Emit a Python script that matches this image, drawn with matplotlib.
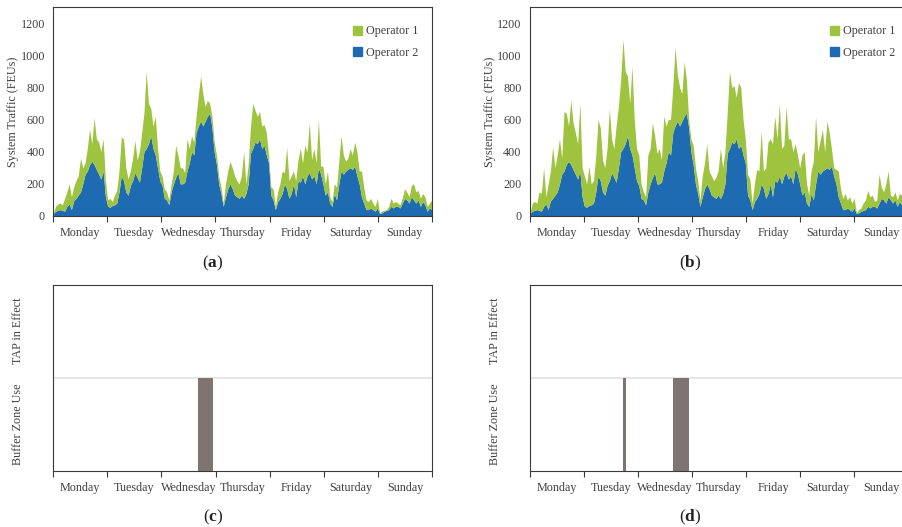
import numpy as np
import matplotlib
matplotlib.use("Agg")
import matplotlib.pyplot as plt
from matplotlib.patches import Patch

plt.rcParams['font.family'] = ['Liberation Serif', 'DejaVu Serif']
plt.rcParams['mathtext.fontset'] = 'custom'
plt.rcParams['mathtext.rm'] = 'Liberation Serif'
plt.rcParams['mathtext.bf'] = 'Liberation Serif:bold'

days = ["Monday", "Tuesday", "Wednesday", "Thursday", "Friday", "Saturday", "Sunday"]

# Operator 2 traffic (hourly, FEUs) - same in (a) and (b)
op2 = [
    15, 30, 35, 40, 35, 30, 60, 75, 40, 95, 110, 130, 150, 200, 260, 280, 320, 340, 320, 290, 260, 230, 280, 120,
    60, 55, 65, 70, 80, 150, 250, 220, 150, 130, 190, 220, 270, 240, 210, 300, 400, 420, 450, 500, 420, 380, 300, 220,
    190, 110, 100, 70, 150, 200, 240, 270, 200, 200, 210, 280, 330, 400, 380, 520, 560, 590, 560, 590, 620, 640, 550, 400,
    320, 200, 140, 60, 120, 170, 200, 170, 130, 120, 110, 130, 110, 140, 200, 390, 420, 460, 450, 480, 420, 440, 380, 330,
    130, 100, 40, 90, 110, 140, 200, 170, 110, 140, 200, 120, 220, 210, 250, 200, 250, 270, 230, 250, 200, 300, 260, 200,
    130, 150, 80, 60, 140, 100, 200, 280, 260, 280, 290, 300, 290, 310, 250, 200, 120, 80, 40, 40, 50, 40, 30, 50,
    15, 20, 30, 35, 40, 60, 50, 60, 60, 50, 80, 110, 100, 80, 120, 100, 80, 100, 60, 90, 70, 30, 50, 40,
]

# Total system traffic (Operator 1 + Operator 2), scenario (a)
total_a = [
    20, 60, 75, 80, 70, 110, 150, 200, 120, 180, 220, 250, 360, 300, 330, 420, 540, 450, 610, 480, 460, 400, 480, 220,
    100, 110, 90, 130, 160, 280, 490, 480, 300, 230, 280, 360, 470, 350, 400, 520, 640, 900, 700, 670, 560, 620, 420, 280,
    250, 170, 150, 100, 200, 280, 440, 380, 300, 300, 270, 480, 420, 500, 460, 620, 750, 870, 760, 680, 720, 700, 620, 460,
    380, 250, 180, 80, 200, 280, 340, 300, 250, 220, 200, 250, 400, 200, 320, 550, 700, 660, 620, 650, 560, 570, 520, 380,
    180, 170, 60, 150, 200, 280, 270, 430, 220, 250, 280, 220, 350, 420, 330, 440, 400, 580, 350, 420, 330, 600, 310, 310,
    200, 280, 120, 90, 200, 180, 340, 500, 380, 340, 360, 420, 380, 460, 400, 280, 280, 180, 100, 90, 110, 80, 60, 110,
    20, 30, 35, 40, 60, 110, 80, 90, 80, 70, 110, 170, 150, 120, 190, 200, 150, 160, 110, 140, 120, 60, 80, 100,
]

# Total system traffic, scenario (b)
total_b = [
    20, 80, 90, 80, 150, 140, 300, 120, 200, 280, 430, 300, 380, 480, 360, 650, 640, 560, 720, 580, 520, 450, 700, 300,
    250, 200, 310, 200, 220, 370, 600, 550, 350, 300, 420, 670, 480, 420, 560, 680, 850, 1100, 900, 870, 700, 930, 600, 420,
    380, 200, 150, 120, 380, 420, 580, 500, 390, 420, 350, 620, 560, 600, 600, 800, 1050, 880, 800, 760, 960, 850, 600, 480,
    440, 300, 220, 100, 250, 330, 450, 280, 250, 220, 240, 280, 420, 300, 400, 640, 900, 800, 810, 740, 830, 800, 600, 480,
    260, 230, 80, 200, 290, 280, 530, 280, 300, 460, 480, 450, 620, 480, 700, 420, 440, 680, 480, 480, 400, 450, 380, 300,
    380, 400, 200, 130, 280, 340, 620, 400, 470, 540, 400, 590, 520, 420, 300, 290, 280, 170, 110, 140, 100, 120, 80, 110,
    20, 40, 50, 80, 100, 160, 120, 130, 90, 100, 260, 180, 150, 200, 280, 130, 120, 150, 100, 140, 130, 80, 120, 110,
]

# Buffer zone use intervals (start day, end day), day 0 = Monday 00:00
buffer_c_start = [2 + 16.0 / 24]
buffer_c_end = [2 + 23.0 / 24]
buffer_d_start = [1 + 17.25 / 24, 2 + 15.5 / 24]
buffer_d_end = [1 + 18.5 / 24, 2 + 22.6 / 24]

GREEN = "#9DC33F"
BLUE = "#1F6BB1"
BAR = "#7E7472"
TXT = "#404040"
SPINE = "#3a3a3a"

W, H = 903, 527
fig = plt.figure(figsize=(W / 100, H / 100), dpi=100)


def fr(l, r, t, b):
    return [l / W, 1 - b / H, (r - l) / W, (b - t) / H]


def style_x(ax):
    ax.set_xlim(0, 7)
    ax.set_xticks(range(8))
    ax.set_xticklabels([])
    ax.set_xticks([i + 0.5 for i in range(7)], minor=True)
    ax.set_xticklabels(days, minor=True, fontsize=8.7, color=TXT)
    ax.tick_params(axis='x', which='major', length=4, width=0.8, color=SPINE, direction='out')
    ax.tick_params(axis='x', which='minor', length=0, pad=8)
    for s in ax.spines.values():
        s.set_color(SPINE)
        s.set_linewidth(0.8)


def traffic_panel(rect, total):
    ax = fig.add_axes(rect)
    n = len(op2)
    t = np.arange(n) * 7.0 / (n - 1)
    ax.fill_between(t, 0, op2, color=BLUE, lw=0)
    ax.fill_between(t, op2, total, color=GREEN, lw=0)
    ax.set_ylim(0, 1300)
    ax.set_yticks(range(0, 1201, 200))
    ax.tick_params(axis='y', length=0, labelsize=8.7, labelcolor=TXT, pad=6)
    style_x(ax)
    ax.set_ylabel("System Traffic (FEUs)", fontsize=8.7, color=TXT, labelpad=1)
    handles = [Patch(color=GREEN, label="Operator 1"), Patch(color=BLUE, label="Operator 2")]
    ax.legend(handles=handles, loc='upper left', bbox_to_anchor=(0.78, 0.935), frameon=False,
              fontsize=8.7, handlelength=0.75, handleheight=0.75, handletextpad=0.3,
              labelspacing=0.8, borderaxespad=0, labelcolor=TXT)
    return ax


def buffer_panel(rect, starts, ends):
    ax = fig.add_axes(rect)
    ax.axhline(1, color="#e2e2e2", lw=1.2, zorder=0)
    widths = [e - s for s, e in zip(starts, ends)]
    ax.bar(starts, [1] * len(starts), width=widths, align='edge', color=BAR, lw=0, zorder=2)
    ax.set_ylim(0, 2)
    ax.set_yticks([0.5, 1.5])
    ax.set_yticklabels(["Buffer Zone Use", "TAP in Effect"], rotation=90, va='center',
                       fontsize=8.7, color=TXT)
    ax.tick_params(axis='y', length=0, pad=21)
    style_x(ax)
    return ax


traffic_panel(fr(53.3, 431.7, 7, 216), total_a)
traffic_panel(fr(530, 908.5, 7, 216), total_b)
buffer_panel(fr(53.3, 432, 284.7, 470.7), buffer_c_start, buffer_c_end)
buffer_panel(fr(530, 908.5, 284.7, 470.7), buffer_d_start, buffer_d_end)

for x, y, lab in [(213, 263, "a"), (690, 263, "b"), (213, 517, "c"), (690, 517, "d")]:
    fig.text(x / W, 1 - y / H, r"($\mathbf{%s}$)" % lab, ha='center', va='center', fontsize=12.5, color="#222222")

fig.savefig("out.png", dpi=100)
